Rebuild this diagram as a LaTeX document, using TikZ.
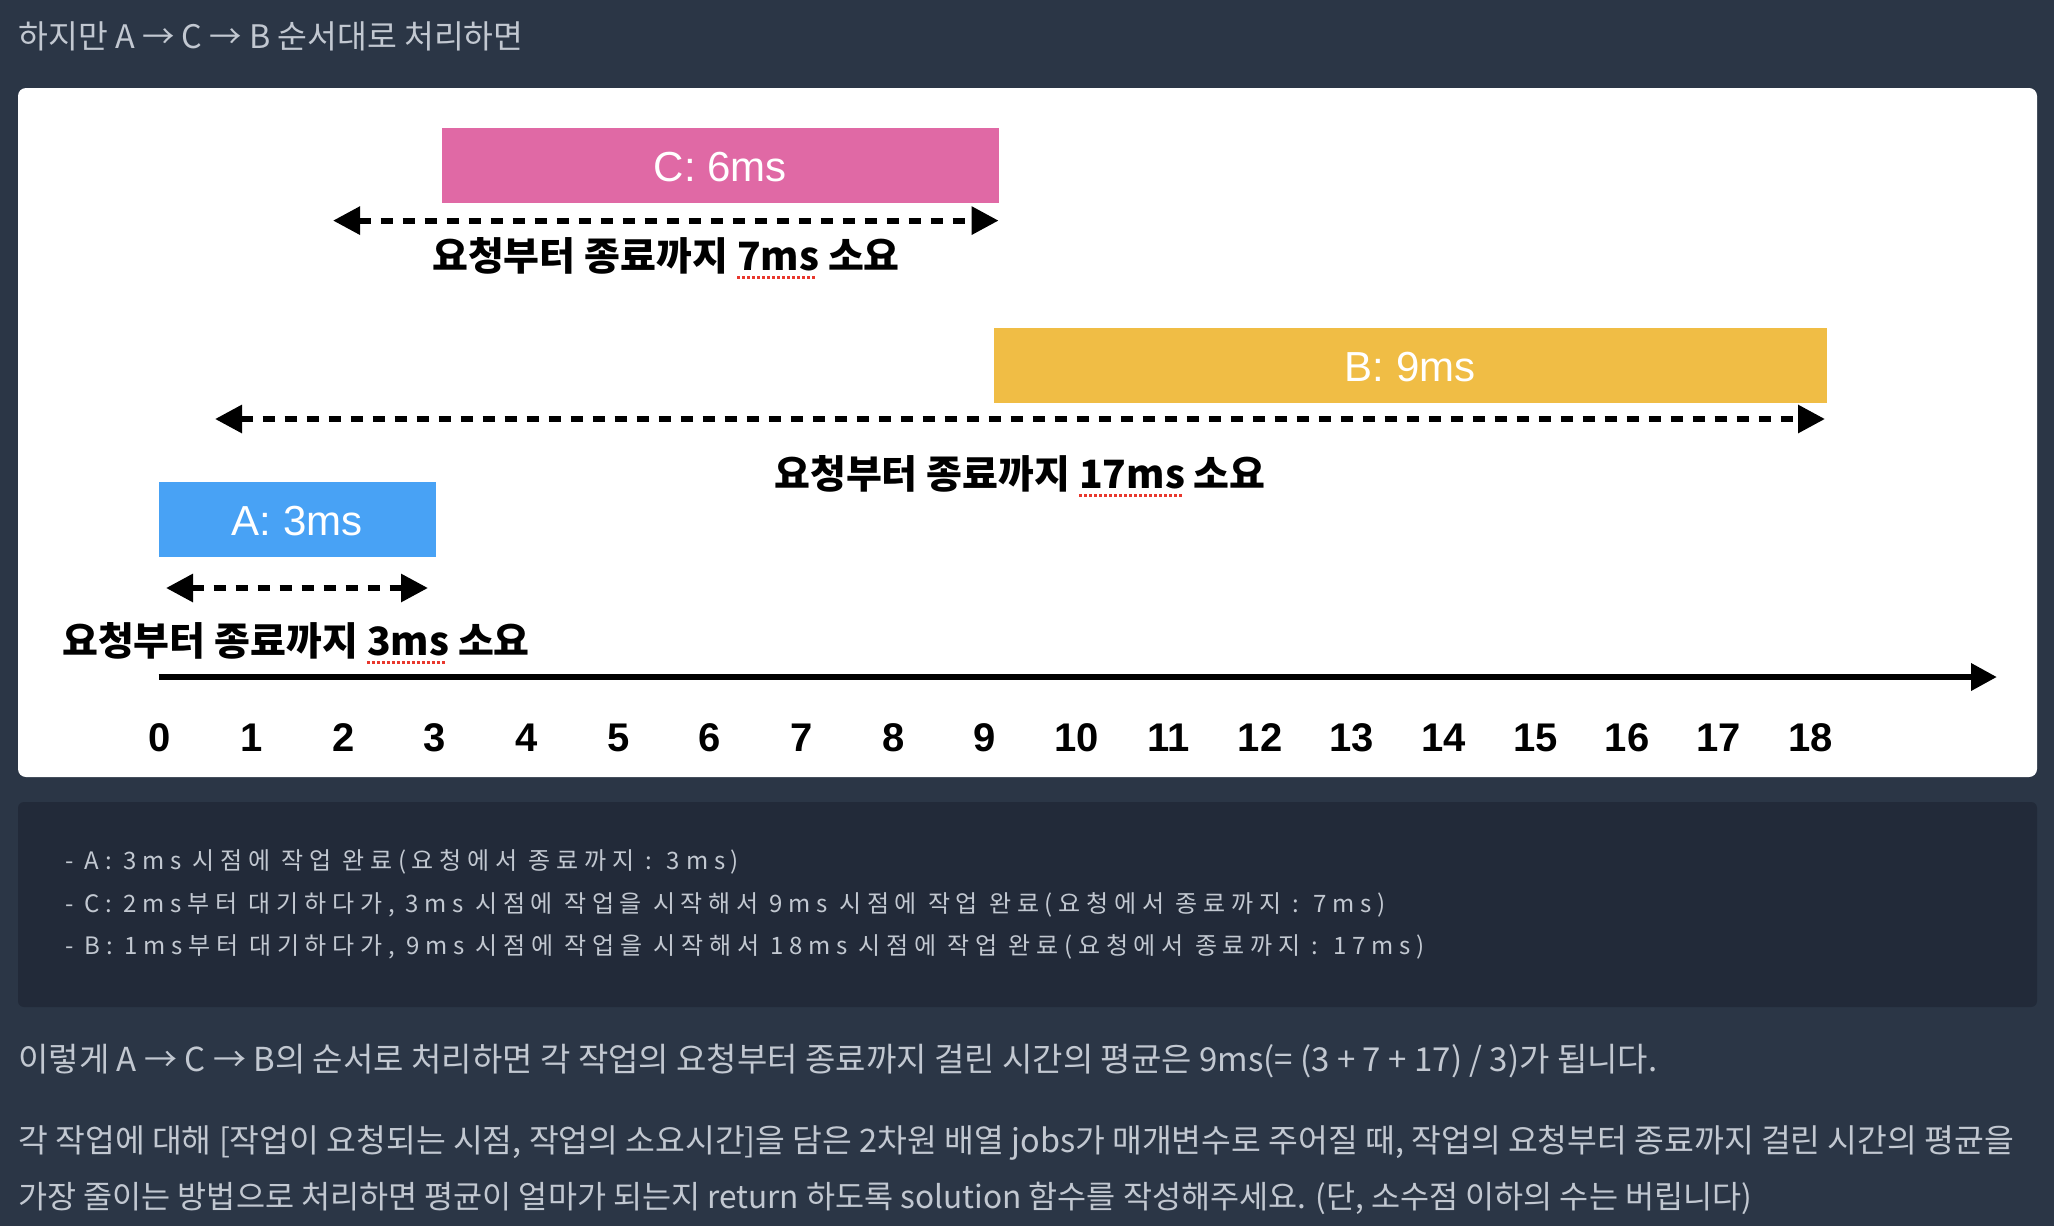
\documentclass[tikz,border=0pt]{standalone}
\usepackage{fontspec}
\usetikzlibrary{arrows.meta,calc}

\setmainfont{Noto Sans CJK KR}
\newfontfamily\krfont{Noto Sans CJK KR}
\newfontfamily\codefont[LetterSpace=24]{Noto Sans CJK KR}
\newfontfamily\latinfont{Liberation Sans}

\definecolor{pagebg}{HTML}{2B3646}
\definecolor{codebg}{HTML}{222A39}
\definecolor{prosefg}{HTML}{C2C8D1}
\definecolor{jobA}{HTML}{48A2F5}
\definecolor{jobB}{HTML}{F0BD45}
\definecolor{jobC}{HTML}{E069A5}
\definecolor{spellred}{HTML}{E8382E}

% red dotted spell-check line under a word
\newcommand\spellmark[1]{\setbox0\hbox{#1}\rlap{\lower4pt\hbox to\wd0{\color{spellred}\leaders\hbox{\rule{1.5pt}{1.5pt}\kern1pt}\hfil}}\box0\relax}

\tikzset{
  jobtext/.style={text=white, font=\latinfont\fontsize{21pt}{24pt}\selectfont},
  span/.style={line width=3pt, dash pattern=on 6pt off 5pt,
    {Triangle[length=13.5pt,width=13.5pt]}-{Triangle[length=13.5pt,width=13.5pt]}},
  spanlabel/.style={font=\krfont\bfseries\fontsize{19.5pt}{22pt}\selectfont},
  axis/.style={line width=3.3pt, -{Triangle[length=13pt,width=13pt]}},
  tick/.style={font=\latinfont\bfseries\fontsize{20pt}{24pt}\selectfont},
  prose/.style={anchor=west, inner sep=0pt, text=prosefg, font=\krfont\fontsize{16.2pt}{19pt}\selectfont},
  codeline/.style={anchor=west, inner sep=0pt, text=prosefg, font=\codefont\fontsize{12pt}{14pt}\selectfont}
}

\begin{document}
\begin{tikzpicture}[x=0.5pt,y=-0.5pt]
  % Page background, 1 unit = 1 pixel
  \fill[pagebg] (0,0) rectangle (2054,1226);
  \useasboundingbox (0,0) rectangle (2054,1226);

  % Define the unit of the time axis
  \def\U{91.7}
  \def\Ox{159.8}

  % Heading line
  \node[prose] (intro) at (18,36) {하지만 A → C → B 순서대로 처리하면};

  % Draw the white panel
  \fill[white, rounded corners=4pt] (18,88) rectangle (2037,777);

  % Job boxes
  \coordinate (C1) at (442,128);
  \coordinate (C2) at (998.6,203);
  \fill[jobC] (C1) rectangle (C2);
  \node[jobtext] (C) at ($(C1)!0.5!(C2)+(0,2)$) {C: 6ms};

  \coordinate (B1) at (994,328);
  \coordinate (B2) at (1826.6,403);
  \fill[jobB] (B1) rectangle (B2);
  \node[jobtext] (B) at ($(B1)!0.5!(B2)+(0,2)$) {B: 9ms};

  \coordinate (A1) at (158.6,482);
  \coordinate (A2) at (435.8,557);
  \fill[jobA] (A1) rectangle (A2);
  \node[jobtext] (A) at ($(A1)!0.5!(A2)+(0,2)$) {A: 3ms};

  % Request-to-finish spans
  \coordinate (Cs) at (333,220.6);
  \coordinate (Ce) at (998.6,220.6);
  \draw[span] (Cs) -- (Ce);
  \node[spanlabel] (Clab) at (666,258) {요청부터 종료까지 \spellmark{7ms} 소요};

  \coordinate (Bs) at (215,419);
  \coordinate (Be) at (1825,419);
  \draw[span] (Bs) -- (Be);
  \node[spanlabel] (Blab) at (1020,476) {요청부터 종료까지 \spellmark{17ms} 소요};

  \coordinate (As) at (166,588);
  \coordinate (Ae) at (428,588);
  \draw[span] (As) -- (Ae);
  \node[spanlabel] (Alab) at (296,643) {요청부터 종료까지 \spellmark{3ms} 소요};

  % Time axis and its numbers
  \coordinate (t0) at (158.6,677);
  \coordinate (tend) at (1997,677);
  \draw[axis] (t0) -- (tend);
  \foreach \i in {0,...,18}
    \node[tick] (n\i) at ({\Ox+\i*\U},738) {\i};

  % Code block
  \fill[codebg, rounded corners=3pt] (18,802) rectangle (2037,1007);
  \node[codeline] (codeA) at (65,862) {- A: 3ms 시점에 작업 완료(요청에서 종료까지 : 3ms)};
  \node[codeline] (codeC) at (65,905) {- C: 2ms부터 대기하다가, 3ms 시점에 작업을 시작해서 9ms 시점에 작업 완료(요청에서 종료까지 : 7ms)};
  \node[codeline] (codeB) at (65,947) {- B: 1ms부터 대기하다가, 9ms 시점에 작업을 시작해서 18ms 시점에 작업 완료(요청에서 종료까지 : 17ms)};

  % Closing paragraphs
  \node[prose, font=\krfont\fontsize{16.5pt}{19pt}\selectfont] (avg) at (18,1061) {이렇게 A → C → B의 순서로 처리하면 각 작업의 요청부터 종료까지 걸린 시간의 평균은 9ms(= (3 + 7 + 17) / 3)가 됩니다.};
  \node[prose] (task1) at (18,1143) {각 작업에 대해 [작업이 요청되는 시점, 작업의 소요시간]을 담은 2차원 배열 jobs가 매개변수로 주어질 때, 작업의 요청부터 종료까지 걸린 시간의 평균을};
  \node[prose, font=\krfont\fontsize{15.8pt}{19pt}\selectfont] (task2) at (18,1198) {가장 줄이는 방법으로 처리하면 평균이 얼마가 되는지 return 하도록 solution 함수를 작성해주세요. (단, 소수점 이하의 수는 버립니다)};
\end{tikzpicture}
\end{document}
